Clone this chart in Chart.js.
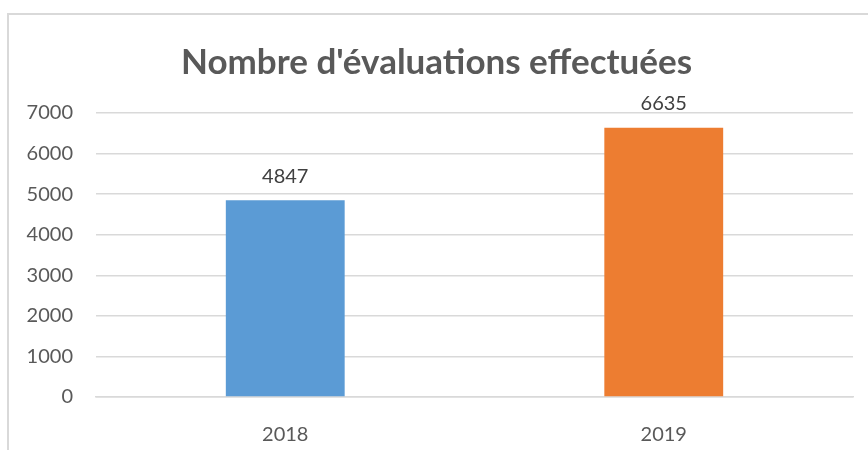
<!DOCTYPE html>
<html>
<head>
<meta charset="utf-8">
<script src="https://cdn.jsdelivr.net/npm/chart.js@4"></script>
<style>
  html, body { margin: 0; padding: 0; background: #fff; }
  #wrap { position: relative; width: 868px; height: 450px; }
  #frame { position: absolute; left: 7px; top: 13px; right: -5px; bottom: -5px;
           border-left: 2px solid #d9d9d9; border-top: 2px solid #d9d9d9; }
  canvas { position: absolute; left: 0; top: 0; }
</style>
</head>
<body>
<div id="wrap">
  <div id="frame"></div>
  <canvas id="chart" width="868" height="450"></canvas>
</div>
<script>
const years = ['2018', '2019'];
const evaluations = [4847, 6635];
const barColors = ['#5b9bd5', '#ed7d31'];
const yTicks = [0, 1000, 2000, 3000, 4000, 5000, 6000, 7000];

// étiquettes de valeur au-dessus des barres
const valueLabels = {
    id: 'valueLabels',
    afterDatasetsDraw(chart) {
        const ctx = chart.ctx;
        const meta = chart.getDatasetMeta(0);
        ctx.save();
        ctx.font = '20px Lato';
        ctx.fillStyle = '#404040';
        ctx.textAlign = 'center';
        ctx.textBaseline = 'bottom';
        meta.data.forEach((bar, i) => {
            ctx.fillText(String(chart.data.datasets[0].data[i]), bar.x, bar.y - 14);
        });
        ctx.restore();
    }
};

const ctx = document.getElementById('chart').getContext('2d');
const chart = new Chart(ctx, {
    type: 'bar',
    data: {
        labels: years,
        datasets: [{
            label: "Nombre d'évaluations effectuées",
            data: evaluations,
            backgroundColor: barColors,
            borderWidth: 0,
            barPercentage: 1,
            categoryPercentage: 0.314
        }]
    },
    options: {
        responsive: false,
        animation: false,
        layout: { padding: { left: 20, right: 15, top: 0, bottom: 0 } },
        plugins: {
            legend: { display: false },
            tooltip: { enabled: false },
            title: {
                display: true,
                text: "Nombre d'évaluations effectuées",
                color: '#595959',
                font: { family: 'Lato', size: 35, weight: 'bold' },
                padding: { top: 42, bottom: 29 }
            }
        },
        scales: {
            x: {
                afterFit(scale) { scale.height = 53; },
                grid: { display: false, drawTicks: false },
                border: { color: '#d9d9d9', width: 1.5 },
                ticks: { color: '#595959', font: { family: 'Lato', size: 20 }, padding: 26 }
            },
            y: {
                min: 0,
                max: 7000,
                afterFit(scale) { scale.width = 76; },
                afterBuildTicks(scale) { scale.ticks = yTicks.map(v => ({ value: v })); },
                grid: { color: '#d9d9d9', lineWidth: 1.5, drawTicks: false },
                border: { display: false },
                ticks: {
                    color: '#595959',
                    font: { family: 'Lato', size: 20 },
                    padding: 23,
                    callback: v => String(v)
                }
            }
        }
    },
    plugins: [valueLabels]
});
</script>
</body>
</html>
